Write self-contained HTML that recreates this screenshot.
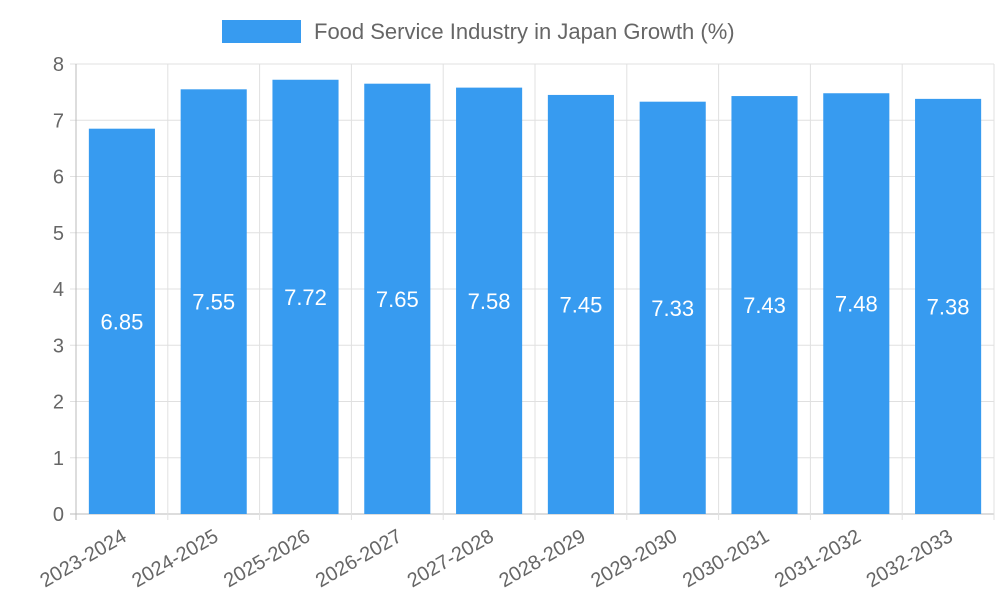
<!DOCTYPE html>
<html><head><meta charset="utf-8"><style>
body{margin:0;background:#fff;width:1000px;height:600px;overflow:hidden}
text{font-family:"Liberation Sans",sans-serif}
</style></head><body>
<svg id="chart" width="1000" height="600" xmlns="http://www.w3.org/2000/svg">
<g>
<rect x="222" y="20" width="79" height="23" fill="#379bf0"/>
<text x="314" y="39" font-size="22" fill="#666">Food Service Industry in Japan Growth (%)</text>
</g>
<g id="grid"></g>
<g id="bars"></g>
<g id="axes"></g>
</svg>
<script>
const categories=["2023-2024","2024-2025","2025-2026","2026-2027","2027-2028","2028-2029","2029-2030","2030-2031","2031-2032","2032-2033"];
const values=[6.85,7.55,7.72,7.65,7.58,7.45,7.33,7.43,7.48,7.38];
const yTicks=[0,1,2,3,4,5,6,7,8];
const L=76,R=994,T=64,B=514,yMax=8;
const NS="http://www.w3.org/2000/svg";
const bw=(R-L)/categories.length;
const yS=v=>B-(v/yMax)*(B-T);
const xS=i=>L+i*bw;
function mk(tag,attrs,parent,txt){const e=document.createElementNS(NS,tag);for(const k in attrs)e.setAttribute(k,attrs[k]);if(txt!==undefined)e.textContent=txt;parent.appendChild(e);return e;}
const grid=document.getElementById('grid'),bars=document.getElementById('bars'),axes=document.getElementById('axes');
yTicks.forEach(t=>{
  const y=yS(t);
  const l=mk('line',{x1:L-6,x2:R,y1:y,y2:y,stroke:t===0?'#bbb':'#e0e0e0','stroke-width':1},grid);
  
  
  const tx=mk('text',{x:L-12,y:y+7,'font-size':20,fill:'#666','text-anchor':'end'},axes,String(t));
  
  
});
for(let i=0;i<=categories.length;i++){
  const x=xS(i);
  const l=mk('line',{x1:x,x2:x,y1:T,y2:B+6,stroke:i===0?'#bbb':'#e0e0e0','stroke-width':1},grid);
  
  
}
categories.forEach((c,i)=>{
  const v=values[i];
  const w=bw*0.72,x=xS(i)+(bw-w)/2,y=yS(v);
  const r=mk('rect',{x:x,y:y,width:w,height:B-y,fill:'#379bf0'},bars);
  
  
  const lb=mk('text',{x:x+w/2,y:(y+B)/2+8,'font-size':22,fill:'#fff','text-anchor':'middle'},bars,v.toFixed(2));
  
  
  const cx=xS(i)+bw/2+6;
  const xl=mk('text',{x:cx,y:B+26,'font-size':20,fill:'#666','text-anchor':'end',transform:`rotate(-30 ${cx} ${B+26})`},axes,c);
  
  
});
</script>
</body></html>
